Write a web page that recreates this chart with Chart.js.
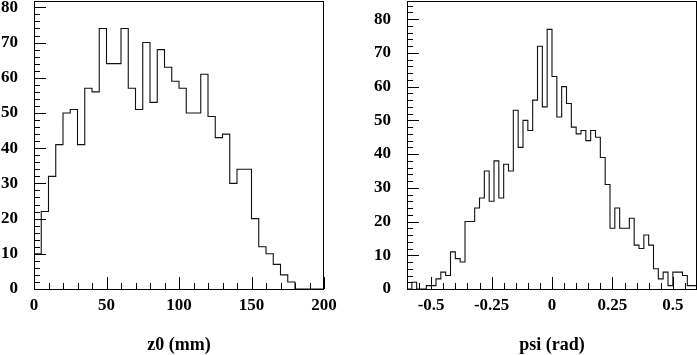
<!DOCTYPE html>
<html>
<head>
<meta charset="utf-8">
<script src="https://cdn.jsdelivr.net/npm/chart.js@4.4.1/dist/chart.umd.min.js"></script>
<style>
  html, body { margin: 0; padding: 0; background: #fff; }
  body { width: 697px; height: 355px; position: relative; overflow: hidden; }
  canvas { position: absolute; top: 0; }
  #c1 { left: 0; }
  #c2 { left: 350px; }
</style>
</head>
<body>
<canvas id="c1" width="350" height="355"></canvas>
<canvas id="c2" width="347" height="355"></canvas>
<script>
// ---- Data: left histogram z0 (mm), bins of 5 mm from 0 to 200 ----
const z0Start = 0;
const z0BinWidth = 5;
const z0Counts = [10, 22, 32, 41, 50, 51, 41, 57, 56, 74,
                  64, 64, 74, 57, 51, 70, 53, 68, 63, 59,
                  57, 50, 50, 61, 49, 43, 44, 30, 34, 34,
                  20, 12, 10, 7, 4, 2, 0, 0, 0, 0];
const z0XTicks = [0, 50, 100, 150, 200];
const z0XLabels = ['0', '50', '100', '150', '200'];

// ---- Data: right histogram psi (rad), bins of 0.02 from -0.6 to 0.6 ----
const psiStart = -0.6;
const psiBinWidth = 0.02;
const psiCounts = [0, 2, 0, 0, 1, 1, 3, 5, 4, 11,
                   9, 8, 20, 20, 24, 27, 35, 26, 38, 27,
                   37, 35, 53, 42, 50, 47, 56, 72, 54, 77,
                   63, 51, 60, 55, 48, 46, 47, 44, 47, 45,
                   39, 31, 18, 24, 18, 18, 21, 13, 12, 16,
                   13, 6, 3, 5, 1, 5, 5, 4, 1, 1];
const psiXTicks = [-0.5, -0.25, 0, 0.25, 0.5];
const psiXLabels = ['-0.5', '-0.25', '0', '0.25', '0.5'];

const yTicks = [0, 10, 20, 30, 40, 50, 60, 70, 80];
const yLabels = ['0', '10', '20', '30', '40', '50', '60', '70', '80'];

const FONT = "'Liberation Serif', 'Times New Roman', serif";

function histPoints(start, width, counts) {
  const pts = [{x: start, y: 0}];
  counts.forEach((c, i) => pts.push({x: start + i * width, y: c}));
  const end = start + counts.length * width;
  pts.push({x: end, y: counts[counts.length - 1]});
  pts.push({x: end, y: 0});
  return pts;
}

// Frame + inward ROOT-style ticks, positioned through the chart's own scales
const frameTicks = {
  id: 'frameTicks',
  afterDatasetsDraw(chart, args, o) {
    const {ctx, chartArea: a, scales: {x, y}} = chart;
    ctx.save();
    ctx.strokeStyle = '#000';
    ctx.lineWidth = 1;
    ctx.beginPath();
    const eps = 1e-9;
    for (let k = Math.ceil((x.min - eps) / o.xMinor); k * o.xMinor <= x.max + eps; k++) {
      const v = k * o.xMinor;
      const isMajor = Math.abs(v / o.xMajor - Math.round(v / o.xMajor)) < 1e-6;
      const px = Math.round(x.getPixelForValue(v)) + 0.5;
      const len = isMajor ? 12 : 6;
      ctx.moveTo(px, a.bottom);
      ctx.lineTo(px, a.bottom - len);
    }
    for (let k = 0; k * o.yMinor <= y.max + eps; k++) {
      const v = k * o.yMinor;
      const isMajor = Math.abs(v / o.yMajor - Math.round(v / o.yMajor)) < 1e-6;
      const py = Math.round(y.getPixelForValue(v)) + 0.5;
      const len = isMajor ? 12 : 6;
      ctx.moveTo(a.left, py);
      ctx.lineTo(a.left + len, py);
    }
    ctx.stroke();
    ctx.strokeRect(Math.round(a.left) + 0.5, Math.round(a.top) + 0.5,
                   Math.round(a.right - a.left) - 1, Math.round(a.bottom - a.top));
    ctx.restore();
  }
};

function makeChart(id, cfg) {
  return new Chart(document.getElementById(id), {
    type: 'line',
    data: {
      datasets: [{
        data: histPoints(cfg.start, cfg.width, cfg.counts),
        stepped: true,
        borderColor: '#111',
        borderWidth: 1.1,
        pointRadius: 0,
        fill: false
      }]
    },
    options: {
      responsive: false,
      animation: false,
      devicePixelRatio: 1,
      layout: { padding: { left: 0, top: 1, right: cfg.padRight, bottom: 0 } },
      plugins: { legend: { display: false }, tooltip: { enabled: false }, frameTicks: cfg.ticksOpt },
      scales: {
        x: {
          type: 'linear',
          min: cfg.xMin, max: cfg.xMax,
          afterBuildTicks: s => { s.ticks = cfg.xTicks.map(v => ({value: v})); },
          afterFit: s => { s.height = 66; s.paddingLeft = 0; s.paddingRight = 0; },
          grid: { display: false, drawTicks: false },
          border: { display: false },
          ticks: {
            autoSkip: false, maxRotation: 0, padding: 6,
            color: '#000',
            font: { family: FONT, weight: 'bold', size: 17 },
            callback: (v, i) => cfg.xLabels[i]
          },
          title: {
            display: true, text: cfg.title, color: '#000',
            font: { family: FONT, weight: 'bold', size: 18, lineHeight: 1.0 },
            padding: { top: 0, bottom: 1 }
          }
        },
        y: {
          type: 'linear',
          min: 0, max: cfg.yMax,
          afterBuildTicks: s => { s.ticks = yTicks.map(v => ({value: v})); },
          afterFit: s => { s.width = cfg.yWidth; s.paddingTop = 0; s.paddingBottom = 0; },
          grid: { display: false, drawTicks: false },
          border: { display: false },
          ticks: {
            autoSkip: false, padding: 16,
            color: '#000',
            font: { family: FONT, weight: 'bold', size: 17 },
            callback: (v, i) => yLabels[i]
          }
        }
      }
    },
    plugins: [frameTicks]
  });
}

makeChart('c1', {
  start: z0Start, width: z0BinWidth, counts: z0Counts,
  xMin: 0, xMax: 200, xTicks: z0XTicks, xLabels: z0XLabels,
  yMax: 81.8, yWidth: 34, padRight: 26, title: 'z0 (mm)',
  ticksOpt: { xMinor: 10, xMajor: 50, yMinor: 2, yMajor: 10 }
});

makeChart('c2', {
  start: psiStart, width: psiBinWidth, counts: psiCounts,
  xMin: -0.6, xMax: 0.6, xTicks: psiXTicks, xLabels: psiXLabels,
  yMax: 85.4, yWidth: 57, padRight: 0, title: 'psi (rad)',
  ticksOpt: { xMinor: 0.05, xMajor: 0.25, yMinor: 2, yMajor: 10 }
});
</script>
</body>
</html>
